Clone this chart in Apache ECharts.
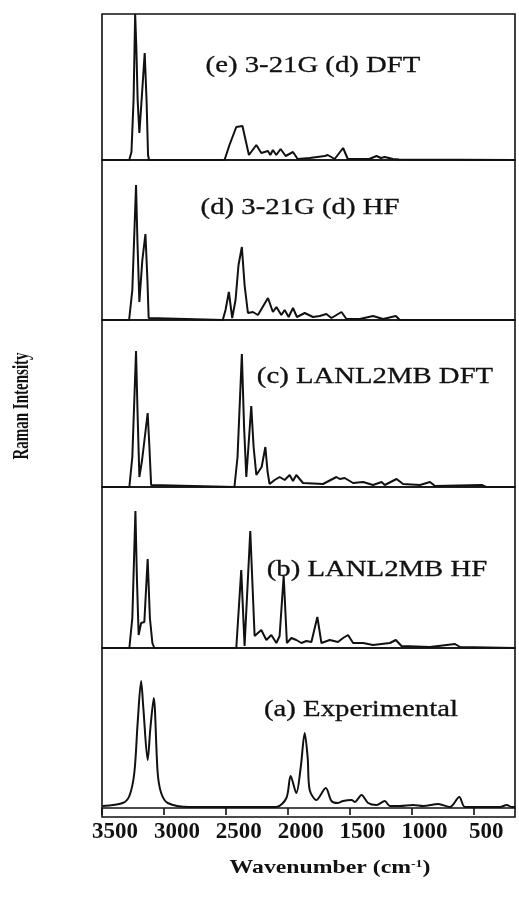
<!DOCTYPE html>
<html>
<head>
<meta charset="utf-8" />
<script src="https://cdn.jsdelivr.net/npm/echarts@6/dist/echarts.min.js"></script>
<style>
  html, body { margin: 0; padding: 0; background: #fff; }
  #chart { width: 519px; height: 899px; }
</style>
</head>
<body>
<div id="chart"></div>
<script>
// 波数刻度 (cm-1)
var tickValues = [3500, 3000, 2500, 2000, 1500, 1000, 500];

// 各面板标题
var panelNames = [
  "(e) 3-21G (d) DFT",
  "(d) 3-21G (d) HF",
  "(c) LANL2MB DFT",
  "(b) LANL2MB HF",
  "(a) Experimental",
];

// 光谱数据 [波数, 强度]
var specE = [
  [3500, 0], [3280, 0], [3262, 8], [3245, 60], [3232, 146], [3222, 110], [3212, 60],
  [3198, 27], [3180, 60], [3155, 107], [3140, 60], [3128, 5], [3120, 0],
  [2510, 0], [2470, 15], [2415, 33], [2365, 34], [2313, 5], [2253, 15], [2213, 7],
  [2159, 9], [2140, 5], [2119, 10], [2092, 5], [2057, 11], [2016, 4], [1957, 8],
  [1919, 1], [1822, 2], [1700, 4], [1676, 5], [1620, 1], [1552, 12], [1514, 1],
  [1340, 1], [1282, 4], [1247, 2], [1215, 3], [1150, 1], [1100, 0.5], [163, 0],
];
var specD = [
  [3500, 0], [3281, 0], [3255, 30], [3225, 135], [3214, 80], [3198, 18], [3174, 60],
  [3149, 86], [3133, 40], [3123, 2], [3115, 0],
  [2524, 0], [2502, 10], [2475, 28], [2448, 2], [2421, 20], [2397, 55], [2370, 73],
  [2348, 35], [2321, 7], [2281, 8], [2240, 5], [2159, 22], [2119, 8], [2091, 13],
  [2051, 5], [2024, 10], [1992, 3], [1957, 12], [1925, 3], [1862, 7], [1795, 3],
  [1741, 4], [1687, 6], [1646, 2], [1565, 8], [1525, 1], [1417, 1], [1310, 4],
  [1229, 1], [1126, 4], [1093, 0], [163, 0],
];
var specC = [
  [3500, 0], [3279, 0], [3255, 30], [3225, 136], [3214, 80], [3198, 10], [3176, 27],
  [3131, 74], [3117, 40], [3103, 2], [3095, 0],
  [2430, 0], [2405, 30], [2370, 133], [2352, 60], [2334, 10], [2294, 81], [2275, 40],
  [2253, 12], [2210, 20], [2180, 40], [2162, 15], [2146, 3], [2105, 7], [2065, 10],
  [2024, 7], [1984, 12], [1957, 6], [1930, 12], [1876, 4], [1714, 3], [1606, 10],
  [1579, 8], [1539, 9], [1471, 4], [1390, 5], [1310, 2], [1241, 5], [1215, 2],
  [1120, 8], [1067, 3], [931, 2], [850, 5], [809, 1], [432, 2], [397, 0], [163, 0],
];
var specB = [
  [3500, 0], [3279, 0], [3255, 30], [3230, 137], [3218, 70], [3204, 13], [3184, 25],
  [3158, 26], [3131, 89], [3113, 30], [3093, 5], [3077, 0],
  [2415, 0], [2375, 78], [2348, 2], [2302, 117], [2267, 12], [2213, 18], [2172, 8],
  [2132, 13], [2091, 5], [2065, 12], [2032, 72], [2006, 5], [1970, 10], [1930, 8],
  [1889, 5], [1849, 7], [1808, 6], [1760, 31], [1727, 5], [1660, 8], [1593, 6],
  [1552, 10], [1512, 13], [1471, 5], [1390, 5], [1310, 3], [1174, 5], [1126, 8],
  [1080, 2], [850, 1], [648, 4], [607, 1], [163, 0],
];
var specA = [
  [3495, 2], [3333, 5], [3279, 12], [3239, 35], [3212, 85], [3184, 127], [3166, 100],
  [3131, 48], [3109, 80], [3082, 110], [3050, 35], [3022, 15], [2969, 5], [2793, 1],
  [2091, 1], [2010, 10], [1976, 32], [1930, 15], [1895, 40], [1862, 75], [1838, 50],
  [1822, 18], [1768, 8], [1692, 20], [1646, 7], [1593, 5], [1552, 7], [1484, 8],
  [1458, 6], [1403, 13], [1350, 5], [1282, 3], [1215, 7], [1174, 2], [1093, 2],
  [986, 3], [905, 2], [783, 4], [689, 1], [613, 11], [567, 1], [284, 1], [230, 3],
  [189, 1], [163, 1],
];
var spectra = [specE, specD, specC, specB, specA];

// 面板位置 (像素)
var panels = [
  { top: 14, height: 146, min: 0, max: 146 },
  { top: 160, height: 160, min: 0, max: 160 },
  { top: 320, height: 167, min: 0, max: 167 },
  { top: 487, height: 161, min: 0, max: 161 },
  { top: 648, height: 169, min: -9, max: 160 },
];
var labelPos = [
  [313, 66], [300, 208], [375, 377], [377, 570], [361, 710],
];

var myChart = echarts.init(document.getElementById("chart"));
var ink = "#111";
var serif = "'Liberation Serif', 'DejaVu Serif', serif";

var grids = [], xAxes = [], yAxes = [], series = [], graphics = [];
panels.forEach(function (p, i) {
  var last = i === panels.length - 1;
  grids.push({
    left: 102, right: 4, top: p.top, height: p.height,
    show: true, borderColor: ink, borderWidth: 1.6,
  });
  xAxes.push({
    gridIndex: i,
    type: "value",
    inverse: true,
    min: 163,
    max: 3500,
    show: last,
    splitLine: { show: false },
    axisLine: { lineStyle: { color: ink, width: 1.6 } },
    axisTick: {
      customValues: tickValues,
      length: 7,
      lineStyle: { color: ink, width: 1.6 },
    },
    axisLabel: {
      customValues: tickValues,
      formatter: function (v) {
        return String(v);
      },
      color: ink,
      fontFamily: serif,
      fontWeight: "bold",
      fontSize: 23,
      margin: 4,
      padding: [0, 0, 0, 26],
    },
  });
  yAxes.push({ gridIndex: i, type: "value", min: p.min, max: p.max, show: false });
  series.push({
    type: "line",
    xAxisIndex: i,
    yAxisIndex: i,
    data: spectra[i],
    showSymbol: false,
    smooth: last ? 0.3 : false,
    clip: true,
    lineStyle: { color: ink, width: 2 },
  });
  // 面板标题
  graphics.push({
    type: "text",
    x: labelPos[i][0],
    y: labelPos[i][1],
    scaleX: 1.25,
    style: {
      text: panelNames[i],
      fill: ink,
      stroke: ink,
      lineWidth: 0.3,
      font: "23px " + serif,
      align: "center",
      verticalAlign: "middle",
    },
  });
});

// 坐标轴标题
graphics.push({
  type: "text",
  x: 330,
  y: 868,
  scaleX: 1.25,
  style: {
    text: "Wavenumber (cm{sup|-1})",
    fill: ink,
    font: "bold 19px " + serif,
    align: "center",
    verticalAlign: "middle",
    rich: {
      sup: { fontSize: 11, fontWeight: "bold", fontFamily: serif, verticalAlign: "top", fill: ink },
    },
  },
});
graphics.push({
  type: "text",
  x: 22,
  y: 406,
  rotation: Math.PI / 2,
  scaleY: 1.5,
  style: {
    text: "Raman Intensity",
    fill: ink,
    font: "bold 15px " + serif,
    align: "center",
    verticalAlign: "middle",
  },
});

var option = {
  backgroundColor: "#fff",
  animation: false,
  grid: grids,
  xAxis: xAxes,
  yAxis: yAxes,
  series: series,
  graphic: graphics,
};
myChart.setOption(option);
</script>
</body>
</html>
